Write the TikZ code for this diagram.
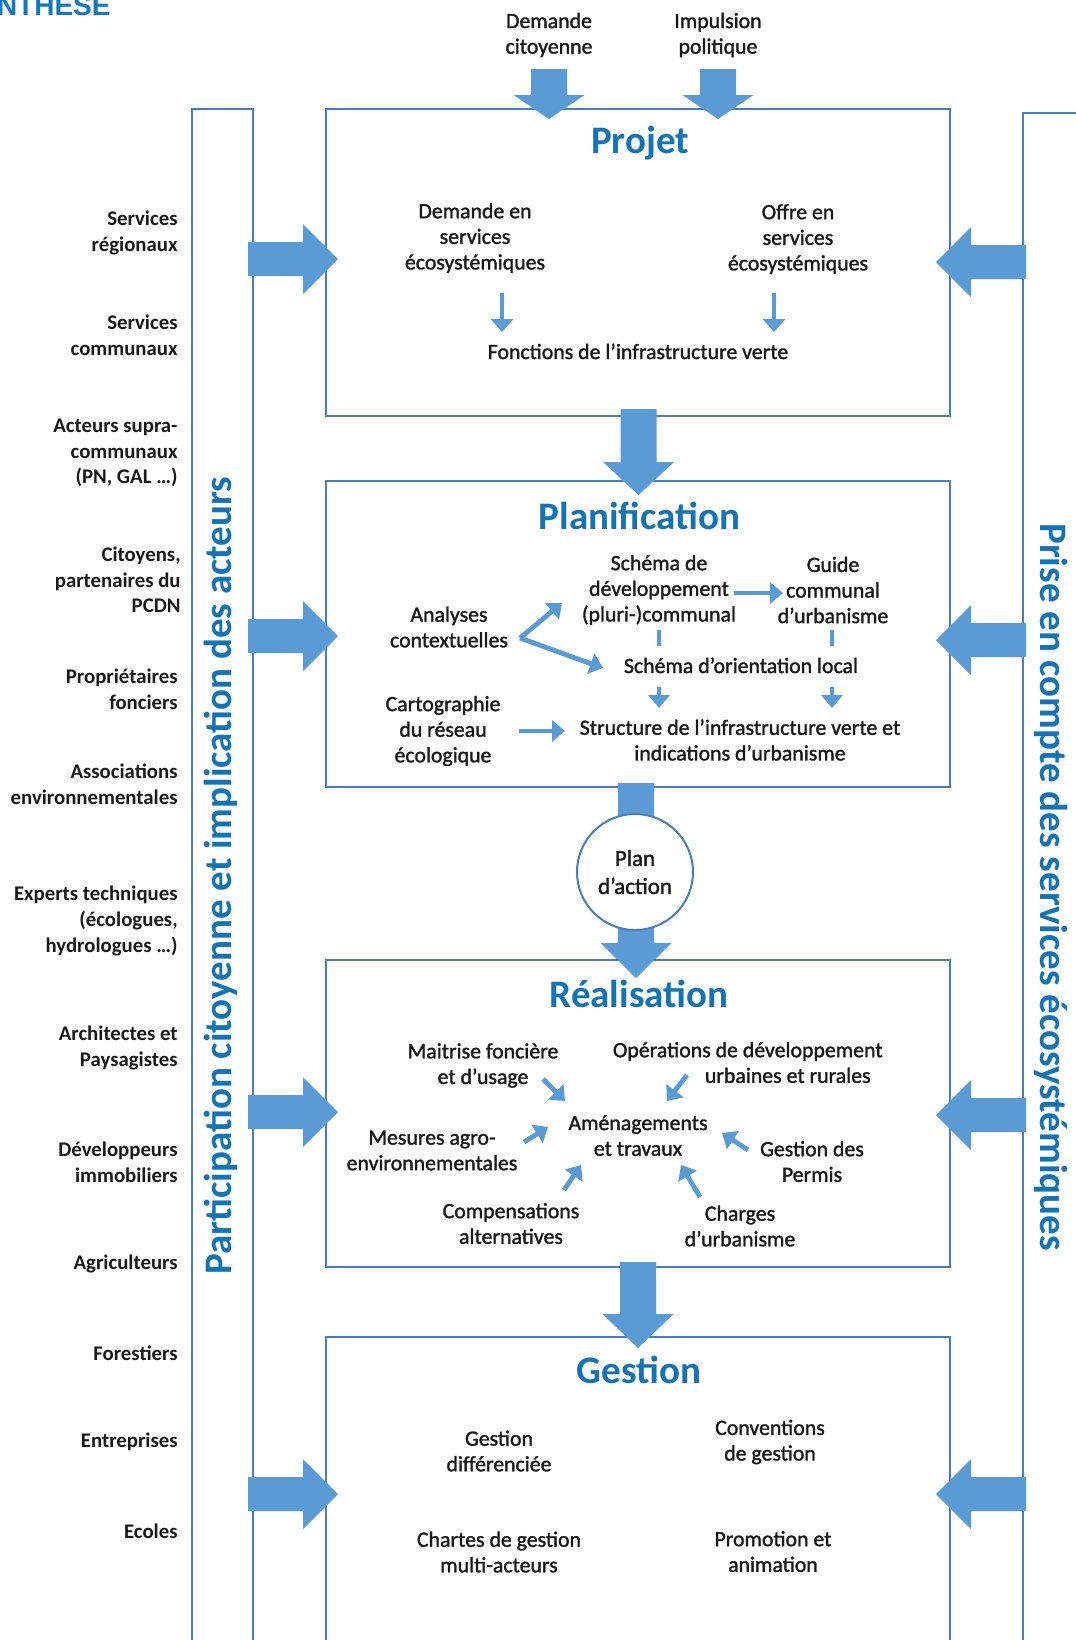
\documentclass[tikz,border=0pt]{standalone}
\usepackage{fontspec}
\setmainfont{Carlito}
\newfontfamily\semibold{Carlito}[FakeBold=1.4]
\newfontfamily\arialfont{Liberation Sans}
\usetikzlibrary{arrows.meta}
\definecolor{arrowblue}{HTML}{5B9BD5}
\definecolor{boxline}{HTML}{4A7EBB}
\definecolor{titleblue}{RGB}{20,115,180}
\definecolor{headblue}{RGB}{20,120,190}
% block arrow pointing down: x, y shaft top, y head base, y tip
\newcommand{\blkdown}[4]{\fill[arrowblue] ({#1-18},#2) -- ({#1+18},#2) -- ({#1+18},#3) -- ({#1+35.5},#3) -- (#1,#4) -- ({#1-35.5},#3) -- ({#1-18},#3) -- cycle;}
% horizontal block arrow: y, x shaft start, x head base, x tip
\newcommand{\blkhoriz}[4]{\fill[arrowblue] (#2,{#1-17}) -- (#3,{#1-17}) -- (#3,{#1-35}) -- (#4,#1) -- (#3,{#1+35}) -- (#3,{#1+17}) -- (#2,{#1+17}) -- cycle;}
\tikzset{
  panel/.style={draw=boxline, line width=1pt},
  txt/.style={font=\semibold\fontsize{10.9}{12.8}\selectfont, align=center, inner sep=0pt, text=black!90},
  lbl/.style={font=\fontsize{10.4}{12.8}\selectfont\bfseries, align=right, anchor=east, inner sep=0pt, text=black!90},
  ttl/.style={font=\fontsize{19.5}{23}\selectfont\bfseries, text=titleblue, anchor=base, inner sep=0pt},
  vtxt/.style={font=\fontsize{19.5}{23}\selectfont\bfseries, text=titleblue, inner sep=0pt},
  smallarr/.style={draw=arrowblue, line width=2.4pt, -{Triangle[length=6.5pt,width=10.5pt]}},
  thinarr/.style={draw=arrowblue, line width=1.6pt, -{Triangle[length=6.5pt,width=11pt]}}
}
\begin{document}
\begin{tikzpicture}[x=0.5pt,y=-0.5pt]
\useasboundingbox (0,0) rectangle (1076,1640);
\clip (0,0) rectangle (1076,1640);
% heading (cut off at the page edge, as in the source)
\node[font=\arialfont\fontsize{14}{16}\selectfont\bfseries, text=headblue, anchor=base east, inner sep=0pt] (head) at (111,15) {SYNTHESE};
% side columns
\draw[panel] (192,1700) -- (192,109) -- (253,109) -- (253,1700);
\draw[panel] (1100,113) -- (1023,113) -- (1023,1700);
% main boxes
\draw[panel] (326,109) rectangle (950,416);
\draw[panel] (326,481) rectangle (950,787);
\draw[panel] (326,960) rectangle (950,1267);
\draw[panel] (326,1700) -- (326,1337) -- (950,1337) -- (950,1700);
% top inputs
\node[txt] (dc) at (549,35) {Demande\\citoyenne};
\node[txt] (ip) at (718,35) {Impulsion\\politique};
\blkdown{549}{69}{95}{119}
\blkdown{718}{69}{95}{119}
% vertical block arrows between boxes
\blkdown{638.5}{409}{462}{495}
\blkdown{636}{783}{943}{978}
\blkdown{638}{1262}{1314}{1348}
% left arrows
\blkhoriz{259}{248}{303}{338}
\blkhoriz{636}{248}{303}{338}
\blkhoriz{1112}{248}{303}{338}
\blkhoriz{1494}{248}{303}{338}
% right arrows
\blkhoriz{262}{1026}{971}{936}
\blkhoriz{640}{1026}{971}{936}
\blkhoriz{1115}{1026}{971}{936}
\blkhoriz{1494}{1026}{971}{936}
% plan d'action
\node[circle, draw=boxline, line width=1pt, fill=white, minimum size=58pt, inner sep=0pt, align=center, text=black!90, font=\semibold\fontsize{11.5}{14}\selectfont] (plan) at (635,872) {Plan\\d’action};
% vertical texts
\node[vtxt, rotate=90] (partic) at (221,875.5) {Participation citoyenne et implication des acteurs};
\node[vtxt, rotate=-90] (prise) at (1051,887) {Prise en compte des services écosystémiques};
% left labels
\node[lbl] (l1) at (178,233) {Services\\régionaux};
\node[lbl] (l2) at (178,335) {Services\\communaux};
\node[lbl] (l3) at (178,453) {Acteurs supra-\\communaux\\(PN, GAL …)};
\node[lbl] (l4) at (181,580) {Citoyens,\\partenaires du\\PCDN};
\node[lbl] (l5) at (178,689.5) {Propriétaires\\fonciers};
\node[lbl] (l6) at (178,784) {Associations\\environnementales};
\node[lbl] (l7) at (178,921) {Experts techniques\\(écologues,\\hydrologues …)};
\node[lbl] (l8) at (178,1048) {Architectes et\\Paysagistes};
\node[lbl] (l9) at (178,1162.5) {Développeurs\\immobiliers};
\node[lbl] (l10) at (178,1264) {Agriculteurs};
\node[lbl] (l11) at (178,1353) {Forestiers};
\node[lbl] (l12) at (178,1442) {Entreprises};
\node[lbl] (l13) at (178,1531) {Ecoles};
% Projet
\node[ttl] (tprojet) at (640,153) {Projet};
\node[txt] (dse) at (475,238) {Demande en\\services\\écosystémiques};
\node[txt] (ose) at (798,239) {Offre en\\services\\écosystémiques};
\node[txt, anchor=base] (fiv) at (638,359) {Fonctions de l’infrastructure verte};
\coordinate (pa1s) at (502,293); \coordinate (pa1e) at (502,332);
\coordinate (pa2s) at (774,293); \coordinate (pa2e) at (774,332);
\draw[thinarr] (pa1s) -- (pa1e);
\draw[thinarr] (pa2s) -- (pa2e);
% Planification
\node[ttl] (tplan) at (639.5,529) {Planification};
\node[txt] (sdev) at (659,590) {Schéma de\\développement\\(pluri-)communal};
\node[txt] (guide) at (833,590) {Guide\\communal\\d’urbanisme};
\node[txt] (ana) at (449,627) {Analyses\\contextuelles};
\node[txt] (carto) at (443,731) {Cartographie\\du réseau\\écologique};
\node[txt] (struct) at (740,740) {Structure de l’infrastructure verte et\\indications d’urbanisme};
\coordinate (sg1) at (734,593); \coordinate (sg2) at (783,593);
\draw[smallarr] (sg1) -- (sg2);
\coordinate (an0) at (520,638); \coordinate (an1) at (562,603); \coordinate (an2) at (603,668);
\draw[smallarr] (an0) -- (an1);
\draw[smallarr] (an0) -- (an2);
\coordinate (cs1) at (519,731); \coordinate (cs2) at (565,731);
\draw[smallarr] (cs1) -- (cs2);
\coordinate (sd1) at (659,630); \coordinate (sd2) at (659,708);
\coordinate (gd1) at (832,630); \coordinate (gd2) at (832,708);
\draw[smallarr] (sd1) -- (sd2);
\draw[smallarr] (gd1) -- (gd2);
\node[txt, anchor=base, fill=white, text height=13.5pt, text depth=7pt, inner xsep=3pt] (sol) at (741,673) {Schéma d’orientation local};
% Realisation
\node[ttl] (treal) at (639,1007) {Réalisation};
\node[txt] (amen) at (638,1135.5) {Aménagements\\et travaux};
\node[txt] (mait) at (483,1065.5) {Maitrise foncière\\et d’usage};
\node[txt, align=right, anchor=east] (oper) at (883,1062.5) {Opérations de développement\\urbaines et rurales\hspace*{6pt}};
\node[txt] (mes) at (432,1150.5) {Mesures agro-\\environnementales};
\node[txt] (gdp) at (812,1161.5) {Gestion des\\Permis};
\node[txt] (comp) at (511,1223.5) {Compensations\\alternatives};
\node[txt] (charg) at (740,1226) {Charges\\d’urbanisme};
\coordinate (r1s) at (543,1079); \coordinate (r1e) at (565,1101);
\coordinate (r2s) at (687,1075); \coordinate (r2e) at (667,1101);
\coordinate (r3s) at (524,1142); \coordinate (r3e) at (548,1127);
\coordinate (r4s) at (748,1150); \coordinate (r4e) at (722,1133);
\coordinate (r5s) at (564,1190); \coordinate (r5e) at (581,1165);
\coordinate (r6s) at (700,1197); \coordinate (r6e) at (681,1165);
\draw[smallarr] (r1s) -- (r1e);
\draw[smallarr] (r2s) -- (r2e);
\draw[smallarr] (r3s) -- (r3e);
\draw[smallarr] (r4s) -- (r4e);
\draw[smallarr] (r5s) -- (r5e);
\draw[smallarr] (r6s) -- (r6e);
% Gestion
\node[ttl] (tgest) at (639,1383) {Gestion};
\node[txt] (gdiff) at (499,1451) {Gestion\\différenciée};
\node[txt] (conv) at (770,1442) {Conventions\\de gestion};
\node[txt] (chart) at (499,1552) {Chartes de gestion\\multi-acteurs};
\node[txt] (promo) at (773,1551.5) {Promotion et\\animation};
\end{tikzpicture}
\end{document}
